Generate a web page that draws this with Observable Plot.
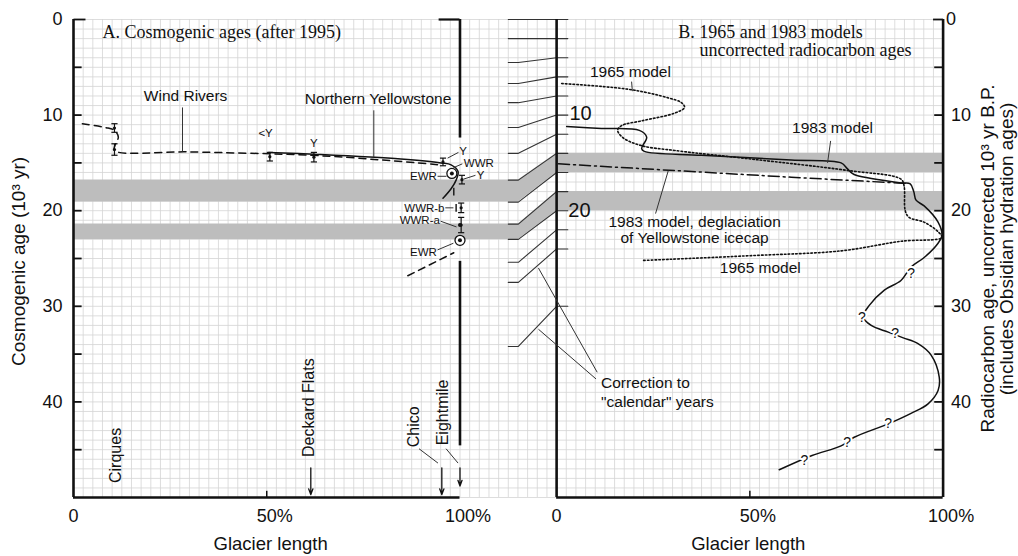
<!DOCTYPE html>
<html>
<head>
<meta charset="utf-8">
<script src="https://cdn.jsdelivr.net/npm/d3@7"></script>
<script src="https://cdn.jsdelivr.net/npm/@observablehq/plot@0.6"></script>
<style>
html,body{margin:0;padding:0;background:#fff;}
#chart{width:1018px;height:556px;overflow:hidden;}
</style>
</head>
<body>
<div id="chart"></div>
<script>
// ---------------- data ----------------
const yTickValues = [0, 10, 20, 30, 40];
const yTickMarks = [0, 5, 10, 15, 20, 25, 30, 35, 40, 45];
const xTickValues = [0, 50, 100];
const xTickLabels = ["0", "50%", "100%"];

// radiocarbon (right) <-> calendar (left) correction
const rcYears  = [0, 2, 4, 6, 8, 10, 12, 14, 16, 18, 20, 22, 24, 30];
const calYears = [0, 2, 4.5, 6.7, 8.7, 11.3, 14.0, 16.8, 19.1, 21.4, 23.0, 25.4, 27.5, 34.2];
const bandRcRanges = [[14, 16], [18, 20]];

// Panel A (glacier length %, cosmogenic age 10^3 yr)
const windRivers = [[2.3,10.9],[8.3,11.3],[10.6,11.6],[11.6,12.3],[10.9,13.0],[10.6,13.7],[30,13.85],[61.4,14.2],[80,14.7],[94.6,15.2]];
const northernYellowstone = [[50.5,13.9],[62.2,14.1],[84.7,14.6],[95.1,15.0],[97.7,15.2],[99.5,15.9],[99.0,16.8],[97.7,17.7],[95.6,18.7]];
const oldDashed = [[86.5,26.8],[98.4,24.4]];
const errorBars = [[10.6,10.9,11.8],[10.6,13.0,14.2],[50.8,13.9,14.8],[62.2,13.9,14.9],[95.6,14.5,15.3],[100.5,16.3,17.2],[100.3,19.2,20.2],[100.3,20.7,22.3]];
const plainBars = [[98.4,17.6,18.4],[99.0,19.3,20.1]];
const ewrCircles = [[97.9,16.1],[100,23.1]];
const solidDots = [[100,21.5]];
const smallLabelsMid = [[49.7,11.9,"<Y"],[62.2,12.9,"Y"],[100.8,13.8,"Y"],[105.3,16.3,"Y"]];
const smallLabelsStart = [[101.0,15.0,"WWR"]];
const smallLabelsEnd = [[94.0,16.4,"EWR"],[96.0,19.7,"WWR-b"],[94.8,21.0,"WWR-a"],[94.0,24.4,"EWR"]];
const localities = [[10.9,45.6,"Cirques"],[60.8,40.6,"Deckard Flats"],[88.0,42.6,"Chico"],[95.5,41.1,"Eightmile"]];
const localityArrows = [[61.4,46.9,49.7],[95.3,46.9,49.7],[100,46.9,48.8]];

// Panel B (glacier length %, radiocarbon age 10^3 yr)
const model1965 = [[1.3,6.7],[11.6,7.0],[20.2,7.4],[28.9,8.2],[32.3,8.7],[33.1,9.2],[30.5,9.8],[22.0,10.6],[16.8,11.1],[15.8,11.6],[17.3,12.4],[22.0,13.2],[30.5,13.7],[50.4,14.6],[75.5,15.8],[89.1,16.7],[89.9,17.4],[90.2,20.0],[91.2,20.7],[95.1,21.2],[98.7,22.2],[99.7,22.8],[89.1,23.2],[73.6,24.2],[50.4,24.7],[22.5,25.2]];
const model1983 = [[2.6,11.2],[11.6,11.4],[21.4,11.6],[23.3,12.3],[22.0,13.5],[22.7,13.8],[37.5,14.2],[60.7,14.7],[73.6,15.0],[75.2,15.6],[76.5,16.1],[77.5,16.3],[89.1,17.1],[91.5,17.2],[92.4,18.0],[93.0,18.9],[95.1,19.5],[98.7,21.2],[99.7,22.6],[98.7,23.4],[95.1,24.9],[91.7,25.9],[89.1,27.3],[84.8,28.3],[80.9,29.9],[79.3,31.1],[81.4,32.0],[85.8,32.7],[89.7,33.3],[93.5,33.9],[96.9,35.1],[99.0,37.4],[98.7,38.8],[96.1,40.2],[91.7,41.2],[85.8,42.3],[77.0,43.7],[73.6,44.6],[66.1,45.6],[57.6,47.1]];
const deglaciation1983 = [[0.5,15.1],[60.7,16.5],[88.4,17.1],[90.5,17.15]];
const questionMarks = [[91.7,26.6],[79.0,31.2],[87.6,32.8],[85.8,42.3],[75.2,44.3],[64.1,46.1]];

// ---------------- layout ----------------
const OFF = 125;          // panel B offset on the shared x scale
const SANS = "'Liberation Sans', Arial, Helvetica, sans-serif";
const SERIF = "'Liberation Serif', 'Times New Roman', Times, serif";
const INK = "#111";

const P = a => ({x: a[0], y: a[1]});
const R = a => ({x: a[0] + OFF, y: a[1]});

const gridX = d3.range(0, 225.001, 2.5);
const gridY = d3.range(0, 50.001, 1);

const corr = [];
rcYears.forEach((rc, i) => {
  const c = calYears[i];
  corr.push({id: i, x: 112.5, y: c}, {id: i, x: 115.1, y: c}, {id: i, x: OFF, y: rc}, {id: i, x: OFF + 2.9, y: rc});
});
const bandPts = [];
bandRcRanges.forEach(([lo, hi], b) => {
  const clo = calYears[rcYears.indexOf(lo)], chi = calYears[rcYears.indexOf(hi)];
  bandPts.push({b, x: 0, lo: clo, hi: chi}, {b, x: 115.1, lo: clo, hi: chi}, {b, x: OFF, lo, hi}, {b, x: 225, lo, hi});
});

const leaders = [
  [28.2,9.2,28.2,13.8],[77.7,9.5,77.7,14.4],
  [96.8,14.5,99.6,13.9],[98.3,15.5,100.6,15.1],[94.2,16.4,96.5,16.4],[100.9,16.7,104.0,16.3],
  [96.2,19.7,98.3,19.7],[95.0,21.1,99.1,21.7],[94.2,24.1,98.3,23.4],
  [89.4,44.9,94.3,46.4],[96.4,44.9,99.5,46.4],
  [144.4,6.5,144.6,7.5],[195.9,12.7,195.1,15.0],[153.9,15.8,150.6,20.3],
  [120.3,26.0,135.5,36.9],[120.3,32.4,135.2,37.6]
].map(d => ({x1: d[0], y1: d[1], x2: d[2], y2: d[3]}));

const plot = Plot.plot({
  width: 1018, height: 556,
  marginLeft: 0, marginRight: 0, marginTop: 0, marginBottom: 0,
  x: {domain: [0, 225], range: [73, 942.6], axis: null},
  y: {domain: [0, 50], range: [19, 497], axis: null},
  style: {fontFamily: SANS, fontSize: "16px", background: "#fff", overflow: "visible", color: INK},
  marks: [
    // graph-paper grid
    Plot.ruleX(gridX, {x: d => d, y1: 0, y2: 50, stroke: "#d4d4d4", strokeWidth: 0.8}),
    Plot.ruleY(gridY, {y: d => d, x1: 0, x2: 225, stroke: "#d4d4d4", strokeWidth: 0.8}),
    // gray bands
    Plot.areaY(bandPts, {x: "x", y1: "lo", y2: "hi", z: "b", fill: "#bdbdbd"}),
    // correction lines
    Plot.line(corr, {x: "x", y: "y", z: "id", stroke: "#333", strokeWidth: 1.1}),
    // frames
    Plot.ruleX([0, OFF, 225], {x: d => d, y1: 0, y2: 50, stroke: INK, strokeWidth: 2.6}),
    Plot.ruleY([50], {y: d => d, x1: 0, x2: 100, stroke: INK, strokeWidth: 2.6}),
    Plot.ruleY([50], {y: d => d, x1: OFF, x2: 225, stroke: INK, strokeWidth: 2.6}),
    Plot.ruleX([100], {x: d => d, y1: 0, y2: 12.4, stroke: INK, strokeWidth: 2.6}),
    Plot.ruleX([100], {x: d => d, y1: 25.3, y2: 44.6, stroke: INK, strokeWidth: 2.6}),
    Plot.ruleY([0], {y: d => d, x1: 94.6, x2: 100, stroke: INK, strokeWidth: 2.2}),
    Plot.link(yTickMarks, {x1: 0, x2: d => d === 0 ? 3.1 : 2.1, y1: d => d, y2: d => d, stroke: INK, strokeWidth: 1.8}),
    Plot.link(yTickMarks, {x1: d => d === 0 ? 222.4 : 222.7, x2: 225, y1: d => d, y2: d => d, stroke: INK, strokeWidth: 1.8}),
    Plot.link([50, 50 + OFF], {x1: d => d, x2: d => d, y1: 50, y2: 49.3, stroke: INK, strokeWidth: 1.5}),
    // panel A data
    Plot.line(windRivers.map(P), {x: "x", y: "y", curve: "catmull-rom", stroke: INK, strokeWidth: 1.5, strokeDasharray: "7,5"}),
    Plot.line(northernYellowstone.map(P), {x: "x", y: "y", curve: "catmull-rom", stroke: INK, strokeWidth: 1.5}),
    Plot.line(oldDashed.map(P), {x: "x", y: "y", stroke: INK, strokeWidth: 1.5, strokeDasharray: "7,5"}),
    Plot.link(errorBars, {x1: d => d[0], x2: d => d[0], y1: d => d[1], y2: d => d[2], stroke: INK, strokeWidth: 1.2}),
    Plot.link(errorBars, {x1: d => d[0] - 0.8, x2: d => d[0] + 0.8, y1: d => d[1], y2: d => d[1], stroke: INK, strokeWidth: 1.2}),
    Plot.link(errorBars, {x1: d => d[0] - 0.8, x2: d => d[0] + 0.8, y1: d => d[2], y2: d => d[2], stroke: INK, strokeWidth: 1.2}),
    Plot.dot(errorBars, {x: d => d[0], y: d => (d[1] + d[2]) / 2, r: 1.6, fill: INK}),
    Plot.link(plainBars, {x1: d => d[0], x2: d => d[0], y1: d => d[1], y2: d => d[2], stroke: INK, strokeWidth: 1.4}),
    Plot.dot(ewrCircles, {x: d => d[0], y: d => d[1], r: 5, stroke: INK, fill: "white", strokeWidth: 1.3}),
    Plot.dot(ewrCircles.concat(solidDots), {x: d => d[0], y: d => d[1], r: 2, fill: INK}),
    Plot.arrow(localityArrows, {x1: d => d[0], x2: d => d[0], y1: d => d[1], y2: d => d[2], stroke: INK, strokeWidth: 1.3, headLength: 7, headAngle: 40}),
    // panel B data
    Plot.line(model1965.map(R), {x: "x", y: "y", curve: "catmull-rom", stroke: INK, strokeWidth: 1.6, strokeDasharray: "1.6,2.2"}),
    Plot.line(deglaciation1983.map(R), {x: "x", y: "y", stroke: INK, strokeWidth: 1.5, strokeDasharray: "11,4,2,4"}),
    Plot.line(model1983.map(R), {x: "x", y: "y", curve: "catmull-rom", stroke: INK, strokeWidth: 1.5}),
    Plot.text(questionMarks.map(R), {x: "x", y: "y", text: () => "?", fontSize: 14, fill: INK, stroke: "white", strokeWidth: 4}),
    // leaders
    Plot.link(leaders, {x1: "x1", y1: "y1", x2: "x2", y2: "y2", stroke: "#333", strokeWidth: 1}),
    // small labels
    Plot.text(smallLabelsMid, {x: d => d[0], y: d => d[1], text: d => d[2], fontSize: 11.5, fill: INK}),
    Plot.text(smallLabelsStart, {x: d => d[0], y: d => d[1], text: d => d[2], fontSize: 11.5, textAnchor: "start", fill: INK}),
    Plot.text(smallLabelsEnd, {x: d => d[0], y: d => d[1], text: d => d[2], fontSize: 11.5, textAnchor: "end", fill: INK}),
    Plot.text(localities, {x: d => d[0], y: d => d[1], text: d => d[2], rotate: -90, fontSize: 16, fill: INK}),
    // annotation labels
    Plot.text([[29.0,8.0,"Wind Rivers"],[78.8,8.3,"Northern Yellowstone"],[144.1,5.5,"1965 model"],[196.4,11.4,"1983 model"],[160.7,21.2,"1983 model, deglaciation"],[160.7,22.9,"of Yellowstone icecap"],[177.7,26.0,"1965 model"]],
      {x: d => d[0], y: d => d[1], text: d => d[2], fontSize: 15.5, fill: INK}),
    Plot.text([[136.5,38.0,"Correction to"],[136.5,40.0,"\"calendar\" years"]],
      {x: d => d[0], y: d => d[1], text: d => d[2], fontSize: 15.5, textAnchor: "start", fill: INK}),
    Plot.text([[131.2,9.8,"10"],[130.9,20.0,"20"]], {x: d => d[0], y: d => d[1], text: d => d[2], fontSize: 20, fill: INK}),
    // panel titles
    Plot.text([[7.5,1.3,"A. Cosmogenic ages (after 1995)"],[156.5,1.35,"B. 1965 and 1983 models"],[162.0,3.25,"uncorrected radiocarbon ages"]],
      {x: d => d[0], y: d => d[1], text: d => d[2], fontFamily: SERIF, fontSize: 18, textAnchor: "start", fill: INK}),
    // axis tick labels
    Plot.text(yTickValues, {x: 0, y: d => d, text: d => String(d), dx: -11, textAnchor: "end", fontSize: 18, fill: INK}),
    Plot.text(yTickValues, {x: 225, y: d => d, text: d => String(d), dx: 8, textAnchor: "start", fontSize: 18, fill: INK}),
    Plot.text(xTickValues.flatMap(v => [v, v + OFF]), {x: d => d, y: 50, dy: 19, fontSize: 18, fill: INK, textAnchor: "start",
      text: d => xTickLabels[xTickValues.indexOf(d >= OFF ? d - OFF : d)]}),
    // axis titles
    Plot.text(["Glacier length"], {x: 51, y: 54.9, text: d => d, fontSize: 18.5, fill: INK}),
    Plot.text(["Glacier length"], {x: 174.6, y: 54.9, text: d => d, fontSize: 18.5, fill: INK}),
    Plot.text(["Cosmogenic age (10³ yr)"], {x: -14.0, y: 25.3, text: d => d, rotate: -90, fontSize: 19, fill: INK}),
    Plot.text(["Radiocarbon age, uncorrected 10³ yr B.P."], {x: 236.6, y: 25.0, text: d => d, rotate: -90, fontSize: 19, fill: INK}),
    Plot.text(["(includes Obsidian hydration ages)"], {x: 241.6, y: 24.0, text: d => d, rotate: -90, fontSize: 19, fill: INK})
  ]
});

document.getElementById("chart").appendChild(plot);

// bottom tick labels: center the numeric part (not the % sign) on the tick
d3.select(plot).selectAll("g[aria-label='text'] text").each(function() {
  const t = this.textContent;
  const g = this.parentNode;
  if (g.getAttribute("text-anchor") === "start" && (t === "0" || t === "50%" || t === "100%")) {
    const tmp = document.createElementNS("http://www.w3.org/2000/svg", "text");
    tmp.setAttribute("font-size", "18");
    tmp.textContent = t.replace("%", "");
    g.appendChild(tmp);
    const w = tmp.getComputedTextLength();
    g.removeChild(tmp);
    this.setAttribute("dx", (-w / 2).toFixed(1));
  }
});
</script>
</body>
</html>
